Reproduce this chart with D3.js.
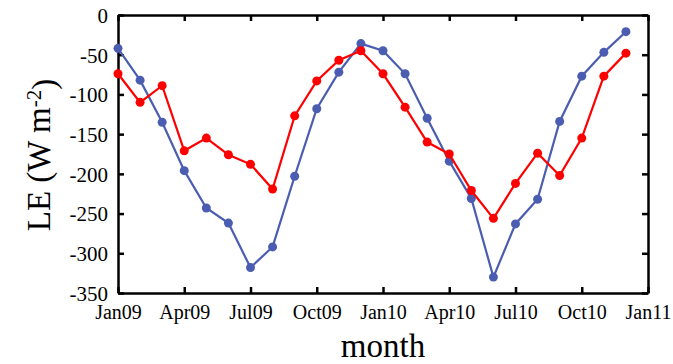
<!DOCTYPE html>
<html>
<head>
<meta charset="utf-8">
<script src="https://cdn.jsdelivr.net/npm/d3@7"></script>
<style>
  body { margin: 0; background: #fff; overflow: hidden; }
  svg { display: block; }
  svg text { font-family: "Liberation Serif", "Times New Roman", serif; fill: #000; }
</style>
</head>
<body>
<div id="graph"></div>
<script>
// months Jan09 .. Dec10 (index 0..23)
const months = ["Jan09","Feb09","Mar09","Apr09","May09","Jun09","Jul09","Aug09","Sep09","Oct09","Nov09","Dec09",
                "Jan10","Feb10","Mar10","Apr10","May10","Jun10","Jul10","Aug10","Sep10","Oct10","Nov10","Dec10"];
// blue series
const blueLE = [-42,-82,-135,-196,-243,-262,-318,-292,-203,-118,-72,-36,
                -45,-74,-130,-184,-231,-330,-263,-232,-134,-77,-47,-21];
// red series
const redLE = [-74,-110,-89,-171,-155,-176,-188,-219,-127,-83,-57,-45,
               -74,-116,-160,-175,-221,-256,-212,-174,-202,-155,-77,-48];
// tick labels
const xTickLabels = ["Jan09","Apr09","Jul09","Oct09","Jan10","Apr10","Jul10","Oct10","Jan11"];
const xTickIndex = [0,3,6,9,12,15,18,21,24];
const yTicks = [0,-50,-100,-150,-200,-250,-300,-350];

const w = 673, h = 364;
const margin = {top: 15, right: 25, bottom: 71, left: 118};
const innerWidth = w - margin.left - margin.right;
const innerHeight = h - margin.top - margin.bottom;
const serif = '"Liberation Serif", "Times New Roman", serif';

const svg = d3.select("#graph")
    .append("svg")
    .attr("width", w)
    .attr("height", h);

const g = svg.append("g")
    .attr("transform", `translate(${margin.left},${margin.top})`);

// x scale on month index
const xScale = d3.scaleLinear()
    .domain([0, 24])
    .range([0, innerWidth]);
const yScale = d3.scaleLinear()
    .domain([-350, 0])
    .range([innerHeight, 0]);

// axes, ticks pointing inwards
const xAxis = d3.axisBottom(xScale)
    .tickValues(xTickIndex)
    .tickFormat((d, i) => xTickLabels[i])
    .tickSizeInner(-6).tickSizeOuter(0).tickPadding(12);
const xAxisTop = d3.axisTop(xScale)
    .tickValues(xTickIndex)
    .tickSizeInner(-6).tickSizeOuter(0);
const yAxis = d3.axisLeft(yScale)
    .tickValues(yTicks)
    .tickFormat(d => String(d))   // plain hyphen minus like the original
    .tickSizeInner(-6).tickSizeOuter(0).tickPadding(10);
const yAxisRight = d3.axisRight(yScale)
    .tickValues(yTicks)
    .tickSizeInner(-6).tickSizeOuter(0);

const xAxisG = g.append("g").call(xAxis)
    .attr("transform", `translate(0,${innerHeight})`);
// mirrored axes: only line + ticks, no labels
g.append("g").call(xAxisTop).selectAll("text").remove();
const yAxisG = g.append("g").call(yAxis);
g.append("g").call(yAxisRight)
    .attr("transform", `translate(${innerWidth},0)`)
    .selectAll("text").remove();

g.selectAll(".domain").attr("stroke", "#000").attr("stroke-width", 2.5);
g.selectAll(".tick line").attr("stroke", "#000").attr("stroke-width", 2.5);
g.selectAll("g").attr("font-family", serif);
xAxisG.selectAll("text").style("font-size", "20px");
yAxisG.selectAll("text").style("font-size", "21px").attr("dy", "0.35em");

// series
const series = [
  {values: blueLE, color: "#4b5db0"},
  {values: redLE, color: "#ff0000"}
];
const lineGenerator = d3.line()
    .x((d, i) => xScale(i))
    .y(d => yScale(d));

series.forEach(s => {
  g.append("path")
    .attr("d", lineGenerator(s.values))
    .attr("fill", "none")
    .attr("stroke", s.color)
    .attr("stroke-width", 2.2);
  g.selectAll(null)
    .data(s.values)
    .enter()
    .append("circle")
    .attr("cx", (d, i) => xScale(i))
    .attr("cy", d => yScale(d))
    .attr("r", 4.5)
    .attr("fill", s.color)
    .append("title")
    .text((d, i) => months[i] + ": " + d);
});

// axis titles
svg.append("text")
    .attr("x", margin.left + innerWidth / 2)
    .attr("y", 357)
    .attr("text-anchor", "middle")
    .style("font-size", "33px")
    .text("month");

const yLabel = svg.append("text")
    .attr("transform", "translate(50,155) rotate(-90)")
    .attr("text-anchor", "middle")
    .style("font-size", "33px");
yLabel.append("tspan").text("LE (W m");
yLabel.append("tspan").attr("dy", "-0.45em").style("font-size", "21px").text("-2");
yLabel.append("tspan").attr("dy", "0.45em").text(")");
</script>
</body>
</html>
